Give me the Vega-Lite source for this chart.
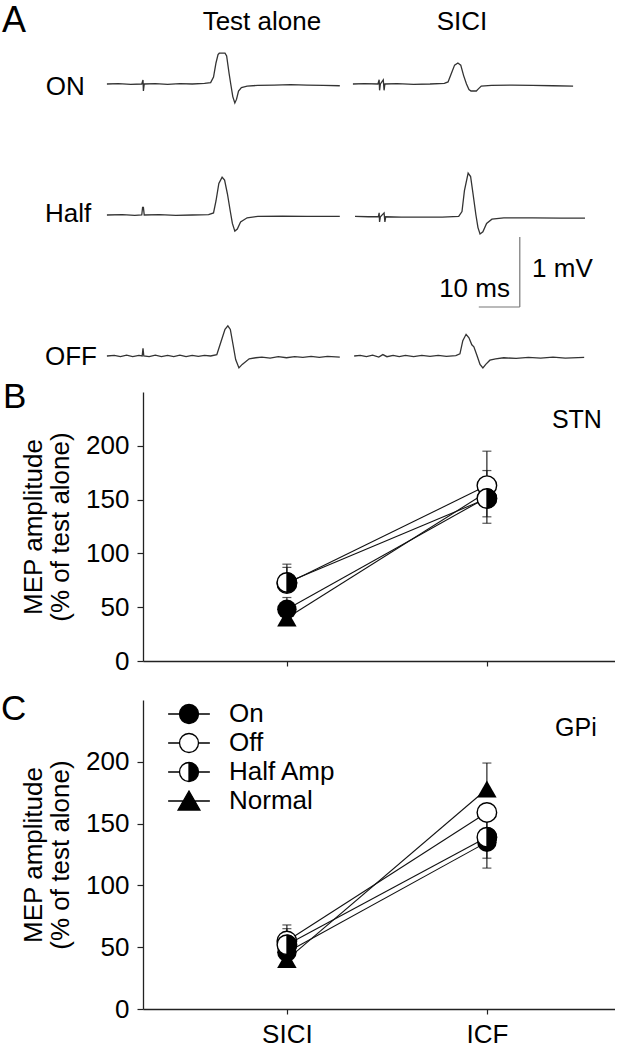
{
  "$schema": "https://vega.github.io/schema/vega-lite/v6.json",
  "padding": 0,
  "bounds": "flush",
  "spacing": 39,
  "config": {
    "view": {"stroke": null},
    "font": "Liberation Sans",
    "text": {"font": "Liberation Sans", "color": "#000", "fontSize": 26},
    "axis": {"domainColor": "#222", "tickColor": "#222", "labelFontSize": 26, "titleFontSize": 26, "titleFontWeight": "normal", "labelColor": "#000", "titleColor": "#000", "labelFont": "Liberation Sans", "titleFont": "Liberation Sans", "grid": false, "tickSize": 6, "domainWidth": 1.3, "tickWidth": 1.2, "titleLineHeight": 27, "labelPadding": 8, "titlePadding": 12},
    "axisX": {"tickSize": 5, "labelPadding": 7, "labelAngle": 0}
  },
  "datasets": {
    "traces": [
      {"row":"ON","sweep":"test","t":-8.8,"mV":0},{"row":"ON","sweep":"test","t":-6,"mV":0.005},{"row":"ON","sweep":"test","t":-3,"mV":-0.005},{"row":"ON","sweep":"test","t":-0.3,"mV":0},{"row":"ON","sweep":"test","t":0,"mV":0.057},{"row":"ON","sweep":"test","t":0.1,"mV":-0.1},{"row":"ON","sweep":"test","t":0.3,"mV":0},{"row":"ON","sweep":"test","t":3,"mV":0.005},{"row":"ON","sweep":"test","t":6,"mV":-0.005},{"row":"ON","sweep":"test","t":9,"mV":0.005},{"row":"ON","sweep":"test","t":12,"mV":0},{"row":"ON","sweep":"test","t":15,"mV":0.01},{"row":"ON","sweep":"test","t":16.5,"mV":0.02},{"row":"ON","sweep":"test","t":17.2,"mV":0.1},{"row":"ON","sweep":"test","t":17.8,"mV":0.3},{"row":"ON","sweep":"test","t":18.3,"mV":0.42},{"row":"ON","sweep":"test","t":18.6,"mV":0.44},{"row":"ON","sweep":"test","t":20.0,"mV":0.44},{"row":"ON","sweep":"test","t":20.4,"mV":0.4},{"row":"ON","sweep":"test","t":21.0,"mV":0.15},{"row":"ON","sweep":"test","t":21.4,"mV":0.0},{"row":"ON","sweep":"test","t":21.9,"mV":-0.18},{"row":"ON","sweep":"test","t":22.4,"mV":-0.27},{"row":"ON","sweep":"test","t":22.8,"mV":-0.22},{"row":"ON","sweep":"test","t":23.3,"mV":-0.1},{"row":"ON","sweep":"test","t":24.0,"mV":-0.05},{"row":"ON","sweep":"test","t":25.4,"mV":-0.03},{"row":"ON","sweep":"test","t":28,"mV":-0.02},{"row":"ON","sweep":"test","t":32,"mV":-0.015},{"row":"ON","sweep":"test","t":36,"mV":-0.01},{"row":"ON","sweep":"test","t":40,"mV":-0.015},{"row":"ON","sweep":"test","t":44,"mV":-0.02},{"row":"ON","sweep":"test","t":48,"mV":-0.025},
      {"row":"ON","sweep":"sici","t":51.2,"mV":0},{"row":"ON","sweep":"sici","t":54,"mV":0.005},{"row":"ON","sweep":"sici","t":57.3,"mV":0},{"row":"ON","sweep":"sici","t":57.6,"mV":0.06},{"row":"ON","sweep":"sici","t":57.7,"mV":-0.09},{"row":"ON","sweep":"sici","t":57.9,"mV":0},{"row":"ON","sweep":"sici","t":58.6,"mV":0.06},{"row":"ON","sweep":"sici","t":58.8,"mV":-0.09},{"row":"ON","sweep":"sici","t":59.0,"mV":0},{"row":"ON","sweep":"sici","t":62,"mV":0.005},{"row":"ON","sweep":"sici","t":66,"mV":-0.005},{"row":"ON","sweep":"sici","t":70,"mV":0},{"row":"ON","sweep":"sici","t":73.5,"mV":0.01},{"row":"ON","sweep":"sici","t":74.4,"mV":0.03},{"row":"ON","sweep":"sici","t":75.2,"mV":0.15},{"row":"ON","sweep":"sici","t":76.0,"mV":0.27},{"row":"ON","sweep":"sici","t":76.8,"mV":0.3},{"row":"ON","sweep":"sici","t":77.5,"mV":0.27},{"row":"ON","sweep":"sici","t":78.2,"mV":0.12},{"row":"ON","sweep":"sici","t":78.9,"mV":0.0},{"row":"ON","sweep":"sici","t":79.5,"mV":-0.08},{"row":"ON","sweep":"sici","t":80.0,"mV":-0.1},{"row":"ON","sweep":"sici","t":81.3,"mV":-0.1},{"row":"ON","sweep":"sici","t":81.8,"mV":-0.07},{"row":"ON","sweep":"sici","t":82.5,"mV":-0.03},{"row":"ON","sweep":"sici","t":85,"mV":-0.02},{"row":"ON","sweep":"sici","t":90,"mV":-0.015},{"row":"ON","sweep":"sici","t":95,"mV":-0.02},{"row":"ON","sweep":"sici","t":100,"mV":-0.025},{"row":"ON","sweep":"sici","t":104.9,"mV":-0.03},
      {"row":"Half","sweep":"test","t":-8.8,"mV":0},{"row":"Half","sweep":"test","t":-5,"mV":0.005},{"row":"Half","sweep":"test","t":-2,"mV":-0.005},{"row":"Half","sweep":"test","t":-0.3,"mV":0},{"row":"Half","sweep":"test","t":-0.1,"mV":0.11},{"row":"Half","sweep":"test","t":0.1,"mV":0.11},{"row":"Half","sweep":"test","t":0.3,"mV":0},{"row":"Half","sweep":"test","t":4,"mV":0.005},{"row":"Half","sweep":"test","t":8,"mV":-0.005},{"row":"Half","sweep":"test","t":12,"mV":0},{"row":"Half","sweep":"test","t":16,"mV":0.005},{"row":"Half","sweep":"test","t":17.2,"mV":0.03},{"row":"Half","sweep":"test","t":17.8,"mV":0.2},{"row":"Half","sweep":"test","t":18.5,"mV":0.45},{"row":"Half","sweep":"test","t":19.3,"mV":0.54},{"row":"Half","sweep":"test","t":19.9,"mV":0.5},{"row":"Half","sweep":"test","t":20.6,"mV":0.3},{"row":"Half","sweep":"test","t":21.3,"mV":0.05},{"row":"Half","sweep":"test","t":21.8,"mV":-0.12},{"row":"Half","sweep":"test","t":22.4,"mV":-0.23},{"row":"Half","sweep":"test","t":23.0,"mV":-0.2},{"row":"Half","sweep":"test","t":23.8,"mV":-0.1},{"row":"Half","sweep":"test","t":25.4,"mV":-0.04},{"row":"Half","sweep":"test","t":28,"mV":-0.02},{"row":"Half","sweep":"test","t":34,"mV":-0.015},{"row":"Half","sweep":"test","t":40,"mV":-0.02},{"row":"Half","sweep":"test","t":48,"mV":-0.02},
      {"row":"Half","sweep":"sici","t":51.7,"mV":-0.02},{"row":"Half","sweep":"sici","t":55,"mV":-0.025},{"row":"Half","sweep":"sici","t":57.4,"mV":-0.025},{"row":"Half","sweep":"sici","t":57.6,"mV":0.03},{"row":"Half","sweep":"sici","t":57.7,"mV":-0.1},{"row":"Half","sweep":"sici","t":57.9,"mV":-0.025},{"row":"Half","sweep":"sici","t":58.8,"mV":0.03},{"row":"Half","sweep":"sici","t":59.0,"mV":-0.1},{"row":"Half","sweep":"sici","t":59.2,"mV":-0.025},{"row":"Half","sweep":"sici","t":63,"mV":-0.03},{"row":"Half","sweep":"sici","t":68,"mV":-0.03},{"row":"Half","sweep":"sici","t":73,"mV":-0.03},{"row":"Half","sweep":"sici","t":77.0,"mV":-0.02},{"row":"Half","sweep":"sici","t":77.8,"mV":0.05},{"row":"Half","sweep":"sici","t":78.4,"mV":0.35},{"row":"Half","sweep":"sici","t":79.3,"mV":0.6},{"row":"Half","sweep":"sici","t":79.9,"mV":0.55},{"row":"Half","sweep":"sici","t":80.5,"mV":0.3},{"row":"Half","sweep":"sici","t":81.2,"mV":0.0},{"row":"Half","sweep":"sici","t":81.7,"mV":-0.18},{"row":"Half","sweep":"sici","t":82.2,"mV":-0.27},{"row":"Half","sweep":"sici","t":82.9,"mV":-0.24},{"row":"Half","sweep":"sici","t":83.8,"mV":-0.12},{"row":"Half","sweep":"sici","t":85.1,"mV":-0.06},{"row":"Half","sweep":"sici","t":88,"mV":-0.04},{"row":"Half","sweep":"sici","t":95,"mV":-0.04},{"row":"Half","sweep":"sici","t":102,"mV":-0.045},{"row":"Half","sweep":"sici","t":107.8,"mV":-0.045},
      {"row":"OFF","sweep":"test","t":-8.8,"mV":0},{"row":"OFF","sweep":"test","t":-7,"mV":0.01},{"row":"OFF","sweep":"test","t":-5.5,"mV":-0.01},{"row":"OFF","sweep":"test","t":-4,"mV":0.012},{"row":"OFF","sweep":"test","t":-2.5,"mV":-0.008},{"row":"OFF","sweep":"test","t":-1,"mV":0.01},{"row":"OFF","sweep":"test","t":-0.2,"mV":0},{"row":"OFF","sweep":"test","t":0,"mV":0.11},{"row":"OFF","sweep":"test","t":0.2,"mV":0},{"row":"OFF","sweep":"test","t":1.5,"mV":-0.01},{"row":"OFF","sweep":"test","t":3,"mV":0.012},{"row":"OFF","sweep":"test","t":4.5,"mV":-0.01},{"row":"OFF","sweep":"test","t":6,"mV":0.01},{"row":"OFF","sweep":"test","t":7.5,"mV":-0.008},{"row":"OFF","sweep":"test","t":9,"mV":0.012},{"row":"OFF","sweep":"test","t":10.5,"mV":-0.01},{"row":"OFF","sweep":"test","t":12,"mV":0.01},{"row":"OFF","sweep":"test","t":13.5,"mV":-0.006},{"row":"OFF","sweep":"test","t":15,"mV":0.01},{"row":"OFF","sweep":"test","t":16.5,"mV":0.0},{"row":"OFF","sweep":"test","t":18.0,"mV":0.02},{"row":"OFF","sweep":"test","t":19.0,"mV":0.2},{"row":"OFF","sweep":"test","t":20.0,"mV":0.38},{"row":"OFF","sweep":"test","t":20.7,"mV":0.43},{"row":"OFF","sweep":"test","t":21.3,"mV":0.38},{"row":"OFF","sweep":"test","t":22.0,"mV":0.15},{"row":"OFF","sweep":"test","t":22.6,"mV":-0.05},{"row":"OFF","sweep":"test","t":23.4,"mV":-0.17},{"row":"OFF","sweep":"test","t":24.2,"mV":-0.12},{"row":"OFF","sweep":"test","t":25.9,"mV":-0.04},{"row":"OFF","sweep":"test","t":27.5,"mV":-0.025},{"row":"OFF","sweep":"test","t":29,"mV":-0.015},{"row":"OFF","sweep":"test","t":31,"mV":-0.03},{"row":"OFF","sweep":"test","t":33,"mV":-0.01},{"row":"OFF","sweep":"test","t":35,"mV":-0.025},{"row":"OFF","sweep":"test","t":37,"mV":-0.01},{"row":"OFF","sweep":"test","t":39,"mV":-0.02},{"row":"OFF","sweep":"test","t":41,"mV":-0.005},{"row":"OFF","sweep":"test","t":43,"mV":-0.02},{"row":"OFF","sweep":"test","t":45,"mV":-0.005},{"row":"OFF","sweep":"test","t":48,"mV":-0.015},
      {"row":"OFF","sweep":"sici","t":51.5,"mV":0},{"row":"OFF","sweep":"sici","t":53,"mV":0.01},{"row":"OFF","sweep":"sici","t":54.5,"mV":-0.01},{"row":"OFF","sweep":"sici","t":56,"mV":0.012},{"row":"OFF","sweep":"sici","t":57.5,"mV":-0.015},{"row":"OFF","sweep":"sici","t":58.5,"mV":0.02},{"row":"OFF","sweep":"sici","t":59.5,"mV":-0.01},{"row":"OFF","sweep":"sici","t":61,"mV":0.01},{"row":"OFF","sweep":"sici","t":62.5,"mV":-0.008},{"row":"OFF","sweep":"sici","t":64,"mV":0.01},{"row":"OFF","sweep":"sici","t":66,"mV":-0.01},{"row":"OFF","sweep":"sici","t":68,"mV":0.01},{"row":"OFF","sweep":"sici","t":70,"mV":-0.005},{"row":"OFF","sweep":"sici","t":72,"mV":0.01},{"row":"OFF","sweep":"sici","t":74,"mV":-0.005},{"row":"OFF","sweep":"sici","t":76.3,"mV":0.005},{"row":"OFF","sweep":"sici","t":77.3,"mV":0.03},{"row":"OFF","sweep":"sici","t":78.0,"mV":0.22},{"row":"OFF","sweep":"sici","t":78.8,"mV":0.31},{"row":"OFF","sweep":"sici","t":79.5,"mV":0.26},{"row":"OFF","sweep":"sici","t":80.2,"mV":0.16},{"row":"OFF","sweep":"sici","t":80.7,"mV":0.13},{"row":"OFF","sweep":"sici","t":81.5,"mV":0.0},{"row":"OFF","sweep":"sici","t":82.2,"mV":-0.12},{"row":"OFF","sweep":"sici","t":82.9,"mV":-0.17},{"row":"OFF","sweep":"sici","t":83.6,"mV":-0.12},{"row":"OFF","sweep":"sici","t":84.6,"mV":-0.06},{"row":"OFF","sweep":"sici","t":86,"mV":-0.04},{"row":"OFF","sweep":"sici","t":88,"mV":-0.025},{"row":"OFF","sweep":"sici","t":91,"mV":-0.035},{"row":"OFF","sweep":"sici","t":94,"mV":-0.02},{"row":"OFF","sweep":"sici","t":97,"mV":-0.03},{"row":"OFF","sweep":"sici","t":100,"mV":-0.015},{"row":"OFF","sweep":"sici","t":103,"mV":-0.03},{"row":"OFF","sweep":"sici","t":107.6,"mV":-0.02}
    ],
    "mep": [
      {"panel":"STN","cond":"On","test":"SICI","mep":48},{"panel":"STN","cond":"On","test":"ICF","mep":152},
      {"panel":"STN","cond":"Off","test":"SICI","mep":72},{"panel":"STN","cond":"Off","test":"ICF","mep":163},
      {"panel":"STN","cond":"Half Amp","test":"SICI","mep":73},{"panel":"STN","cond":"Half Amp","test":"ICF","mep":151},
      {"panel":"STN","cond":"Normal","test":"SICI","mep":40},{"panel":"STN","cond":"Normal","test":"ICF","mep":157},
      {"panel":"GPi","cond":"On","test":"SICI","mep":46},{"panel":"GPi","cond":"On","test":"ICF","mep":135},
      {"panel":"GPi","cond":"Off","test":"SICI","mep":55},{"panel":"GPi","cond":"Off","test":"ICF","mep":159},
      {"panel":"GPi","cond":"Half Amp","test":"SICI","mep":52},{"panel":"GPi","cond":"Half Amp","test":"ICF","mep":139},
      {"panel":"GPi","cond":"Normal","test":"SICI","mep":40},{"panel":"GPi","cond":"Normal","test":"ICF","mep":178}
    ],
    "err": [
      {"panel":"STN","cond":"Half Amp","test":"SICI","mep":73,"end":90},
      {"panel":"STN","cond":"Off","test":"SICI","mep":72,"end":87},
      {"panel":"STN","cond":"On","test":"SICI","mep":48,"end":59},
      {"panel":"STN","cond":"Off","test":"ICF","mep":163,"end":195},
      {"panel":"STN","cond":"Normal","test":"ICF","mep":157,"end":177},
      {"panel":"STN","cond":"On","test":"ICF","mep":152,"end":134},
      {"panel":"STN","cond":"Half Amp","test":"ICF","mep":151,"end":128},
      {"panel":"GPi","cond":"Off","test":"SICI","mep":55,"end":68},
      {"panel":"GPi","cond":"Half Amp","test":"SICI","mep":52,"end":65},
      {"panel":"GPi","cond":"Normal","test":"ICF","mep":178,"end":199},
      {"panel":"GPi","cond":"Half Amp","test":"ICF","mep":139,"end":157},
      {"panel":"GPi","cond":"Off","test":"ICF","mep":159,"end":122},
      {"panel":"GPi","cond":"On","test":"ICF","mep":135,"end":114}
    ],
    "scalebar": [
      {"t":81.9,"t2":91.9,"mV":-1.314,"mV2":-1.314},
      {"t":91.9,"t2":91.9,"mV":-0.314,"mV2":-1.314}
    ],
    "labels": [
      {"row":"ON","label":"ON","t":-23.7,"mV":-0.157,"kind":"left"},
      {"row":"ON","label":"Test alone","t":29.0,"mV":0.771,"kind":"center"},
      {"row":"ON","label":"SICI","t":77.8,"mV":0.771,"kind":"center"},
      {"row":"ON","label":"A","t":-34.4,"mV":0.743,"kind":"letter"},
      {"row":"Half","label":"Half","t":-23.9,"mV":-0.1,"kind":"left"},
      {"row":"Half","label":"10 ms","t":89.5,"mV":-1.171,"kind":"right"},
      {"row":"Half","label":"1 mV","t":94.9,"mV":-0.886,"kind":"left"},
      {"row":"OFF","label":"OFF","t":-23.9,"mV":-0.129,"kind":"left"}
    ]
  },
  "vconcat": [
    {
      "width": 472, "height": 90,
      "encoding": {
        "x": {"field": "t", "type": "quantitative", "scale": {"domain": [0, 115.12], "nice": false, "zero": false}, "axis": null},
        "y": {"field": "mV", "type": "quantitative", "scale": {"domain": [-0.0857, 1.2], "nice": false, "zero": false}, "axis": null}
      },
      "layer": [
        {"data": {"name": "traces"}, "transform": [{"filter": "datum.row == 'ON'"}], "mark": {"type": "line", "color": "#333", "strokeWidth": 1.3, "clip": false}, "encoding": {"detail": {"field": "sweep"}}},
        {"data": {"name": "labels"}, "transform": [{"filter": "datum.row == 'ON' && datum.kind == 'left'"}], "mark": {"type": "text", "align": "left", "baseline": "alphabetic", "clip": false, "fontSize": 26}, "encoding": {"text": {"field": "label"}}},
        {"data": {"name": "labels"}, "transform": [{"filter": "datum.row == 'ON' && datum.kind == 'center'"}], "mark": {"type": "text", "align": "center", "baseline": "alphabetic", "clip": false, "fontSize": 26}, "encoding": {"text": {"field": "label"}}},
        {"data": {"name": "labels"}, "transform": [{"filter": "datum.row == 'ON' && datum.kind == 'letter'"}], "mark": {"type": "text", "align": "left", "baseline": "alphabetic", "clip": false, "fontSize": 36}, "encoding": {"text": {"field": "label"}}}
      ]
    },
    {
      "width": 472, "height": 120,
      "encoding": {
        "x": {"field": "t", "type": "quantitative", "scale": {"domain": [0, 115.12], "nice": false, "zero": false}, "axis": null},
        "y": {"field": "mV", "type": "quantitative", "scale": {"domain": [-0.4857, 1.2286], "nice": false, "zero": false}, "axis": null}
      },
      "layer": [
        {"data": {"name": "traces"}, "transform": [{"filter": "datum.row == 'Half'"}], "mark": {"type": "line", "color": "#333", "strokeWidth": 1.3, "clip": false}, "encoding": {"detail": {"field": "sweep"}}},
        {"data": {"name": "scalebar"}, "mark": {"type": "rule", "color": "#777", "strokeWidth": 1.2, "clip": false}, "encoding": {"x2": {"field": "t2"}, "y2": {"field": "mV2"}}},
        {"data": {"name": "labels"}, "transform": [{"filter": "datum.row == 'Half' && datum.kind == 'left'"}], "mark": {"type": "text", "align": "left", "baseline": "alphabetic", "clip": false, "fontSize": 26}, "encoding": {"text": {"field": "label"}}},
        {"data": {"name": "labels"}, "transform": [{"filter": "datum.row == 'Half' && datum.kind == 'right'"}], "mark": {"type": "text", "align": "right", "baseline": "alphabetic", "clip": false, "fontSize": 26}, "encoding": {"text": {"field": "label"}}}
      ]
    },
    {
      "width": 472, "height": 65,
      "encoding": {
        "x": {"field": "t", "type": "quantitative", "scale": {"domain": [0, 115.12], "nice": false, "zero": false}, "axis": null},
        "y": {"field": "mV", "type": "quantitative", "scale": {"domain": [0.0429, 0.9714], "nice": false, "zero": false}, "axis": null}
      },
      "layer": [
        {"data": {"name": "traces"}, "transform": [{"filter": "datum.row == 'OFF'"}], "mark": {"type": "line", "color": "#333", "strokeWidth": 1.3, "clip": false}, "encoding": {"detail": {"field": "sweep"}}},
        {"data": {"name": "labels"}, "transform": [{"filter": "datum.row == 'OFF'"}], "mark": {"type": "text", "align": "left", "baseline": "alphabetic", "clip": false, "fontSize": 26}, "encoding": {"text": {"field": "label"}}}
      ]
    },
    {
      "width": 472, "height": 269,
      "encoding": {
        "x": {"field": "test", "type": "nominal", "title": null, "scale": {"type": "point", "domain": ["SICI", "ICF"], "padding": 0.68, "align": 0.529}, "axis": {"labels": false}}
      },
      "layer": [
        {"data": {"name": "mep"}, "transform": [{"filter": "datum.panel == 'STN'"}], "mark": {"type": "line", "color": "#111", "strokeWidth": 1.1},
         "encoding": {"y": {"field": "mep", "type": "quantitative", "title": ["MEP amplitude", "(% of test alone)"], "scale": {"domain": [0, 250], "nice": false}, "axis": {"values": [0, 50, 100, 150, 200]}}, "detail": {"field": "cond"}}},
        {"data": {"name": "err"}, "transform": [{"filter": "datum.panel == 'STN'"}], "mark": {"type": "rule", "color": "#111", "strokeWidth": 1.1},
         "encoding": {"y": {"field": "mep", "type": "quantitative", "title": ["MEP amplitude", "(% of test alone)"], "scale": {"domain": [0, 250], "nice": false}, "axis": {"values": [0, 50, 100, 150, 200]}}, "y2": {"field": "end"}}},
        {"data": {"name": "err"}, "transform": [{"filter": "datum.panel == 'STN'"}], "mark": {"type": "tick", "orient": "horizontal", "color": "#111", "size": 9, "thickness": 1.2},
         "encoding": {"y": {"field": "end", "type": "quantitative", "title": ["MEP amplitude", "(% of test alone)"], "scale": {"domain": [0, 250], "nice": false}, "axis": {"values": [0, 50, 100, 150, 200]}}}},
        {"data": {"name": "mep"}, "transform": [{"filter": "datum.panel == 'STN' && datum.cond == 'Normal'"}], "mark": {"type": "point", "shape": "triangle-up", "filled": true, "color": "#000", "size": 380, "opacity": 1},
         "encoding": {"y": {"field": "mep", "type": "quantitative", "title": ["MEP amplitude", "(% of test alone)"], "scale": {"domain": [0, 250], "nice": false}, "axis": {"values": [0, 50, 100, 150, 200]}}}},
        {"data": {"name": "mep"}, "transform": [{"filter": "datum.panel == 'STN' && datum.cond == 'On'"}], "mark": {"type": "point", "shape": "circle", "filled": true, "color": "#000", "size": 380, "opacity": 1},
         "encoding": {"y": {"field": "mep", "type": "quantitative", "title": ["MEP amplitude", "(% of test alone)"], "scale": {"domain": [0, 250], "nice": false}, "axis": {"values": [0, 50, 100, 150, 200]}}}},
        {"data": {"name": "mep"}, "transform": [{"filter": "datum.panel == 'STN' && (datum.cond == 'Off' || datum.cond == 'Half Amp')"}], "mark": {"type": "point", "shape": "circle", "filled": true, "fill": "#fff", "stroke": "#000", "strokeWidth": 1.4, "size": 380, "opacity": 1},
         "encoding": {"y": {"field": "mep", "type": "quantitative", "title": ["MEP amplitude", "(% of test alone)"], "scale": {"domain": [0, 250], "nice": false}, "axis": {"values": [0, 50, 100, 150, 200]}}}},
        {"data": {"name": "mep"}, "transform": [{"filter": "datum.panel == 'STN' && datum.cond == 'Half Amp'"}], "mark": {"type": "point", "shape": "M0,-1A1,1,0,0,1,0,1Z", "filled": true, "fill": "#000", "stroke": "#000", "strokeWidth": 1, "size": 380, "opacity": 1},
         "encoding": {"y": {"field": "mep", "type": "quantitative", "title": ["MEP amplitude", "(% of test alone)"], "scale": {"domain": [0, 250], "nice": false}, "axis": {"values": [0, 50, 100, 150, 200]}}}},
        {"data": {"values": [{}]}, "mark": {"type": "text", "text": "STN", "align": "center", "baseline": "alphabetic", "fontSize": 25, "dx": 90, "clip": false},
         "encoding": {"x": {"datum": "ICF", "title": null}, "y": {"datum": 216.5, "type": "quantitative", "title": ["MEP amplitude", "(% of test alone)"], "scale": {"domain": [0, 250], "nice": false}, "axis": {"values": [0, 50, 100, 150, 200]}}}},
        {"data": {"values": [{}]}, "mark": {"type": "text", "text": "B", "align": "left", "baseline": "alphabetic", "fontSize": 35, "dx": -284, "clip": false},
         "encoding": {"x": {"datum": "SICI", "title": null}, "y": {"datum": 235, "type": "quantitative", "title": ["MEP amplitude", "(% of test alone)"], "scale": {"domain": [0, 250], "nice": false}, "axis": {"values": [0, 50, 100, 150, 200]}}}}
      ]
    },
    {
      "width": 472, "height": 309,
      "encoding": {
        "x": {"field": "test", "type": "nominal", "title": null, "scale": {"type": "point", "domain": ["SICI", "ICF"], "padding": 0.68, "align": 0.529}, "axis": {"labels": true}}
      },
      "layer": [
        {"data": {"name": "mep"}, "transform": [{"filter": "datum.panel == 'GPi'"}], "mark": {"type": "line", "color": "#111", "strokeWidth": 1.1},
         "encoding": {"y": {"field": "mep", "type": "quantitative", "title": ["MEP amplitude", "(% of test alone)"], "scale": {"domain": [0, 250], "nice": false}, "axis": {"values": [0, 50, 100, 150, 200]}}, "detail": {"field": "cond"}}},
        {"data": {"name": "err"}, "transform": [{"filter": "datum.panel == 'GPi'"}], "mark": {"type": "rule", "color": "#111", "strokeWidth": 1.1},
         "encoding": {"y": {"field": "mep", "type": "quantitative", "title": ["MEP amplitude", "(% of test alone)"], "scale": {"domain": [0, 250], "nice": false}, "axis": {"values": [0, 50, 100, 150, 200]}}, "y2": {"field": "end"}}},
        {"data": {"name": "err"}, "transform": [{"filter": "datum.panel == 'GPi'"}], "mark": {"type": "tick", "orient": "horizontal", "color": "#111", "size": 9, "thickness": 1.2},
         "encoding": {"y": {"field": "end", "type": "quantitative", "title": ["MEP amplitude", "(% of test alone)"], "scale": {"domain": [0, 250], "nice": false}, "axis": {"values": [0, 50, 100, 150, 200]}}}},
        {"data": {"name": "mep"}, "transform": [{"filter": "datum.panel == 'GPi' && datum.cond == 'Normal'"}], "mark": {"type": "point", "shape": "triangle-up", "filled": true, "color": "#000", "size": 380, "opacity": 1},
         "encoding": {"y": {"field": "mep", "type": "quantitative", "title": ["MEP amplitude", "(% of test alone)"], "scale": {"domain": [0, 250], "nice": false}, "axis": {"values": [0, 50, 100, 150, 200]}}}},
        {"data": {"name": "mep"}, "transform": [{"filter": "datum.panel == 'GPi' && datum.cond == 'On'"}], "mark": {"type": "point", "shape": "circle", "filled": true, "color": "#000", "size": 380, "opacity": 1},
         "encoding": {"y": {"field": "mep", "type": "quantitative", "title": ["MEP amplitude", "(% of test alone)"], "scale": {"domain": [0, 250], "nice": false}, "axis": {"values": [0, 50, 100, 150, 200]}}}},
        {"data": {"name": "mep"}, "transform": [{"filter": "datum.panel == 'GPi' && (datum.cond == 'Off' || datum.cond == 'Half Amp')"}], "mark": {"type": "point", "shape": "circle", "filled": true, "fill": "#fff", "stroke": "#000", "strokeWidth": 1.4, "size": 380, "opacity": 1},
         "encoding": {"y": {"field": "mep", "type": "quantitative", "title": ["MEP amplitude", "(% of test alone)"], "scale": {"domain": [0, 250], "nice": false}, "axis": {"values": [0, 50, 100, 150, 200]}}}},
        {"data": {"name": "mep"}, "transform": [{"filter": "datum.panel == 'GPi' && datum.cond == 'Half Amp'"}], "mark": {"type": "point", "shape": "M0,-1A1,1,0,0,1,0,1Z", "filled": true, "fill": "#000", "stroke": "#000", "strokeWidth": 1, "size": 380, "opacity": 1},
         "encoding": {"y": {"field": "mep", "type": "quantitative", "title": ["MEP amplitude", "(% of test alone)"], "scale": {"domain": [0, 250], "nice": false}, "axis": {"values": [0, 50, 100, 150, 200]}}}},
        {"data": {"name": "mep"}, "transform": [{"filter": "datum.panel == 'GPi'"}], "mark": {"type": "point", "filled": true, "stroke": "#000", "strokeWidth": 1.3, "size": 360, "opacity": 0},
         "encoding": {
           "y": {"field": "mep", "type": "quantitative", "title": ["MEP amplitude", "(% of test alone)"], "scale": {"domain": [0, 250], "nice": false}, "axis": {"values": [0, 50, 100, 150, 200]}},
           "shape": {"field": "cond", "type": "nominal", "scale": {"domain": ["On", "Off", "Half Amp", "Normal"], "range": ["M-1,0A1,1,0,0,1,1,0A1,1,0,0,1,-1,0ZM-2.2,0H-1M1,0H2.2", "M-1,0A1,1,0,0,1,1,0A1,1,0,0,1,-1,0ZM-2.2,0H-1M1,0H2.2", "M0,-1A1,1,0,0,1,0,1ZM0,1A1,1,0,0,1,0,-1A1,1,0,0,0,0,1M-2.2,0H-1M1,0H2.2", "M0,-1.05L1.15,0.95L-1.15,0.95ZM-2.2,0H-0.6M0.6,0H2.2"]},
             "legend": {"title": null, "orient": "none", "legendX": 33, "legendY": 701, "padding": 0, "labelFontSize": 26, "labelFont": "Liberation Sans", "labelColor": "#000", "symbolSize": 360, "labelOffset": 27, "rowPadding": 3, "symbolStrokeColor": "#000", "symbolStrokeWidth": 1.3, "symbolOpacity": 1,
               "encode": {"symbols": {"update": {"stroke": {"value": "#000"}, "strokeWidth": {"value": 1.3}, "opacity": {"value": 1}, "strokeOpacity": {"value": 1}}}}}},
           "fill": {"field": "cond", "type": "nominal", "scale": {"domain": ["On", "Off", "Half Amp", "Normal"], "range": ["#000", "#fff", "#000", "#000"]},
             "legend": {"title": null, "orient": "none", "legendX": 33, "legendY": 701, "padding": 0, "labelFontSize": 26, "labelFont": "Liberation Sans", "labelColor": "#000", "symbolSize": 360, "labelOffset": 27, "rowPadding": 3, "symbolStrokeColor": "#000", "symbolStrokeWidth": 1.3, "symbolOpacity": 1,
               "encode": {"symbols": {"update": {"stroke": {"value": "#000"}, "strokeWidth": {"value": 1.3}, "opacity": {"value": 1}, "strokeOpacity": {"value": 1}}}}}}
         }},
        {"data": {"values": [{}]}, "mark": {"type": "text", "text": "GPi", "align": "center", "baseline": "alphabetic", "fontSize": 25, "dx": 89, "clip": false},
         "encoding": {"x": {"datum": "ICF", "title": null}, "y": {"datum": 221, "type": "quantitative", "title": ["MEP amplitude", "(% of test alone)"], "scale": {"domain": [0, 250], "nice": false}, "axis": {"values": [0, 50, 100, 150, 200]}}}},
        {"data": {"values": [{}]}, "mark": {"type": "text", "text": "C", "align": "left", "baseline": "alphabetic", "fontSize": 35, "dx": -286, "clip": false},
         "encoding": {"x": {"datum": "SICI", "title": null}, "y": {"datum": 233.8, "type": "quantitative", "title": ["MEP amplitude", "(% of test alone)"], "scale": {"domain": [0, 250], "nice": false}, "axis": {"values": [0, 50, 100, 150, 200]}}}}
      ]
    }
  ]
}
